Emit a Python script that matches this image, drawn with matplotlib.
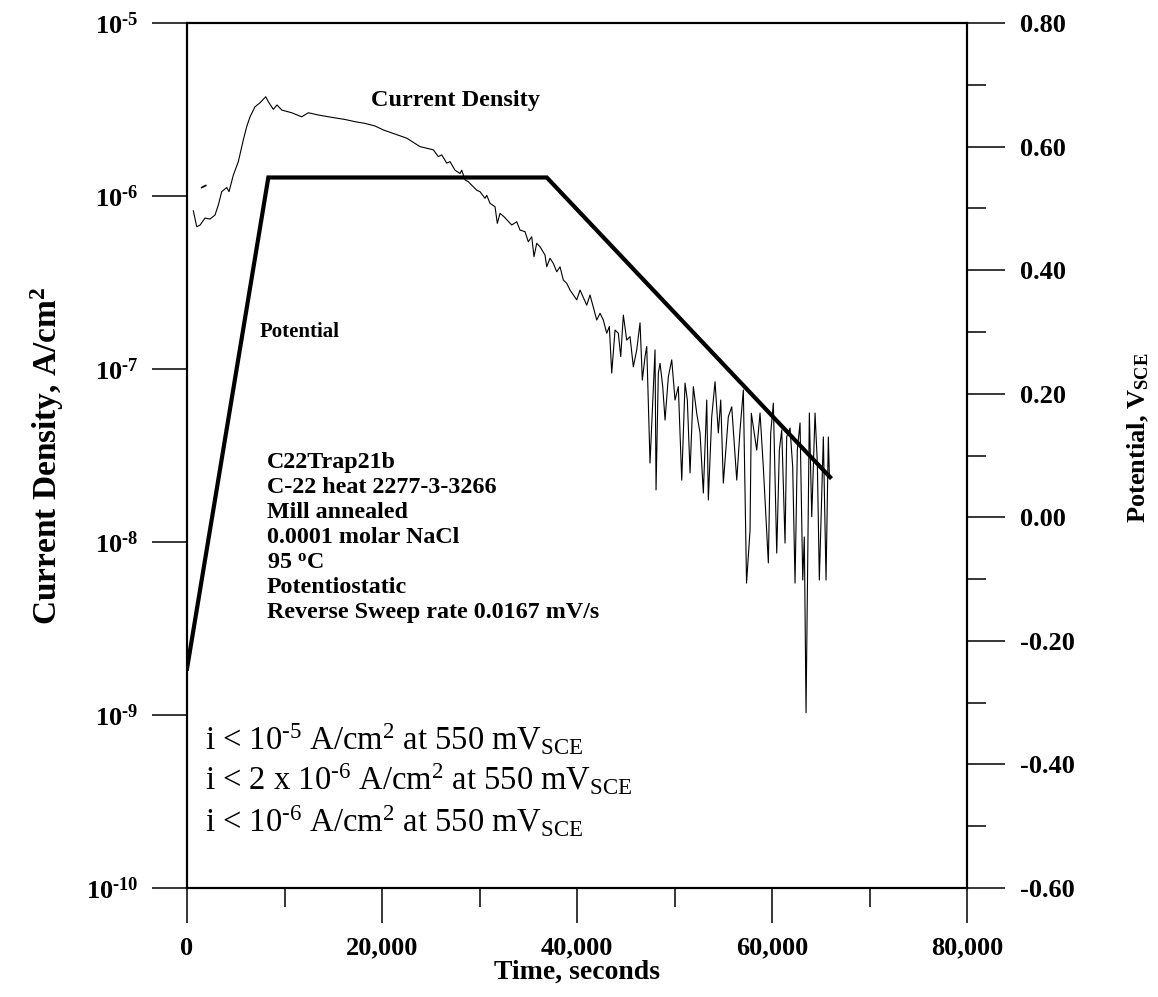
import matplotlib
matplotlib.use("Agg")
import matplotlib.pyplot as plt
from matplotlib.ticker import FixedLocator, FuncFormatter, MultipleLocator, NullLocator

plt.rcParams['font.family'] = ['Liberation Serif', 'DejaVu Serif']
plt.rcParams['mathtext.fontset'] = 'custom'
plt.rcParams['mathtext.rm'] = 'Liberation Serif'
plt.rcParams['mathtext.bf'] = 'Liberation Serif:bold'
plt.rcParams['mathtext.it'] = 'Liberation Serif:italic'
plt.rcParams['axes.unicode_minus'] = False

# current density trace (seconds, A/cm2)
time_cd = [646, 995, 1333, 1846, 2359, 2872, 3210, 3559, 4072, 4308,
           4749, 5262, 5774, 6123, 6462, 6974, 7487, 8072, 8338, 8851,
           9230, 9713, 10738, 11764, 12441, 13467, 14841, 16205, 17231, 18256,
           19282, 20133, 21159, 22533, 23897, 25262, 25774, 26123, 26636, 26974,
           27487, 28000, 28174, 28513, 28851, 29364, 29713, 30051, 30564, 30738,
           31077, 31588, 31824, 32101, 32512, 33302, 33815, 34152, 34665, 35004,
           35353, 35588, 35865, 36204, 36716, 36891, 37229, 37568, 37917, 38255,
           38594, 38943, 39282, 39969, 40308, 40995, 41333, 42020, 42359, 42697,
           43046, 43312, 43559, 43897, 44235, 44481, 44749, 45097, 45435, 45774,
           46122, 46462, 46697, 46974, 47149, 47487, 48000, 48103, 48338, 48513,
           48789, 49026, 49364, 49713, 50051, 50389, 50739, 51077, 51312, 51590,
           51928, 52276, 52615, 52954, 53303, 53467, 53815, 54154, 54492, 54738,
           55005, 55518, 55866, 56380, 56718, 57056, 57385, 57744, 57877, 58082,
           58431, 58769, 59105, 59621, 59862, 60133, 60482, 60749, 60995, 61333,
           61503, 61846, 62118, 62359, 62593, 62872, 63149, 63310, 63487, 63826,
           64072, 64410, 64646, 64851, 65097, 65262, 65538, 65774, 65877]
current = [8.22e-7, 6.65e-7, 6.79e-7, 7.46e-7, 7.36e-7, 7.77e-7, 8.87e-7, 1.06e-6, 1.12e-6, 1.06e-6,
           1.32e-6, 1.58e-6, 2.11e-6, 2.52e-6, 2.87e-6, 3.28e-6, 3.46e-6, 3.75e-6, 3.51e-6, 3.17e-6,
           3.36e-6, 3.14e-6, 3.03e-6, 2.87e-6, 3.03e-6, 2.94e-6, 2.85e-6, 2.77e-6, 2.69e-6, 2.63e-6,
           2.54e-6, 2.41e-6, 2.30e-6, 2.16e-6, 1.93e-6, 1.85e-6, 1.69e-6, 1.73e-6, 1.55e-6, 1.58e-6,
           1.41e-6, 1.35e-6, 1.41e-6, 1.24e-6, 1.21e-6, 1.13e-6, 1.08e-6, 1.06e-6, 9.70e-7, 1.01e-6,
           9.08e-7, 8.67e-7, 6.95e-7, 7.94e-7, 7.59e-7, 6.80e-7, 7.10e-7, 6.36e-7, 6.22e-7, 5.44e-7,
           5.82e-7, 4.46e-7, 5.33e-7, 5.09e-7, 4.56e-7, 3.90e-7, 4.37e-7, 4.08e-7, 3.65e-7, 3.90e-7,
           3.27e-7, 3.13e-7, 2.86e-7, 2.51e-7, 2.86e-7, 2.34e-7, 2.68e-7, 1.92e-7, 2.10e-7, 1.92e-7,
           1.61e-7, 1.76e-7, 9.48e-8, 1.68e-7, 1.61e-7, 1.18e-7, 2.05e-7, 1.47e-7, 1.54e-7, 1.03e-7,
           1.29e-7, 1.85e-7, 8.63e-8, 1.18e-7, 1.35e-7, 2.86e-8, 1.29e-7, 2.00e-8, 9.45e-8, 1.08e-7,
           7.91e-8, 5.07e-8, 9.02e-8, 1.13e-7, 6.62e-8, 7.91e-8, 2.28e-8, 8.30e-8, 6.62e-8, 2.51e-8,
           7.91e-8, 5.55e-8, 4.27e-8, 1.92e-8, 6.62e-8, 1.75e-8, 5.30e-8, 8.45e-8, 4.27e-8, 6.62e-8,
           2.19e-8, 5.30e-8, 6.05e-8, 2.28e-8, 4.44e-8, 7.57e-8, 5.79e-9, 1.17e-8, 5.55e-8, 4.64e-8,
           3.40e-8, 5.57e-8, 2.72e-8, 7.57e-9, 4.25e-8, 6.35e-8, 8.63e-9, 3.40e-8, 4.44e-8, 9.86e-9,
           4.06e-8, 4.56e-8, 2.72e-8, 5.79e-9, 3.40e-8, 4.88e-8, 6.03e-9, 1.07e-8, 1.03e-9, 5.57e-8,
           1.40e-8, 5.57e-8, 2.85e-8, 6.03e-9, 1.83e-8, 4.05e-8, 6.03e-9, 4.05e-8, 2.44e-8]

# short stray segment near the start
time_stray = [1510, 1920]
current_stray = [1.12e-6, 1.15e-6]

# applied potential (seconds, V vs SCE)
time_pot = [0, 8340, 36900, 65950]
potential = [-0.245, 0.55, 0.55, 0.065]

x_ticks = [0, 20000, 40000, 60000, 80000]
cd_ticks = [1e-10, 1e-9, 1e-8, 1e-7, 1e-6, 1e-5]
cd_labels = ['10$^{\\mathbf{\u201010}}$', '10$^{\\mathbf{\u20109}}$', '10$^{\\mathbf{\u20108}}$',
             '10$^{\\mathbf{\u20107}}$', '10$^{\\mathbf{\u20106}}$', '10$^{\\mathbf{\u20105}}$']

info_lines = ['C22Trap21b', 'C-22 heat 2277-3-3266', 'Mill annealed',
              '0.0001 molar NaCl', '95 $^{\\mathbf{o}}$C', 'Potentiostatic',
              'Reverse Sweep rate 0.0167 mV/s']
criteria = ['i < 10$^{\\mathrm{\u20105}}$ A/cm$^{\\mathrm{2}}$ at 550 mV$_{\\mathrm{SCE}}$',
            'i < 2 x 10$^{\\mathrm{\u20106}}$ A/cm$^{\\mathrm{2}}$ at 550 mV$_{\\mathrm{SCE}}$',
            'i < 10$^{\\mathrm{\u20106}}$ A/cm$^{\\mathrm{2}}$ at 550 mV$_{\\mathrm{SCE}}$']

fig = plt.figure(figsize=(11.58, 9.97), dpi=100)
ax = fig.add_axes([0.1615, 0.1093, 0.6736, 0.8676])
ax2 = ax.twinx()

ax.plot(time_cd, current, color='black', lw=0.8)
ax.plot(time_stray, current_stray, color='black', lw=1.2)
ax2.plot(time_pot, potential, color='black', lw=3.0, solid_joinstyle='miter')

ax.set_yscale('log')
ax.set_xlim(0, 80000)
ax.set_ylim(1e-10, 1e-5)
ax2.set_ylim(-0.60, 0.80)

ax.xaxis.set_major_locator(FixedLocator(x_ticks))
ax.xaxis.set_minor_locator(MultipleLocator(10000))
ax.xaxis.set_major_formatter(FuncFormatter(lambda v, p: f'{v:,.0f}'))
ax.yaxis.set_major_locator(FixedLocator(cd_ticks))
ax.yaxis.set_minor_locator(NullLocator())
ax.set_yticklabels(cd_labels)
ax2.yaxis.set_major_locator(MultipleLocator(0.2))
ax2.yaxis.set_minor_locator(MultipleLocator(0.1))
ax2.yaxis.set_major_formatter(FuncFormatter(lambda v, p: f'{v:.2f}'))

for a in (ax, ax2):
    for s in a.spines.values():
        s.set_linewidth(1.5)
ax.tick_params(axis='x', which='major', direction='out', length=25, width=1.1, pad=10, labelsize=19)
ax.tick_params(axis='x', which='minor', direction='out', length=14, width=1.1)
ax.tick_params(axis='y', which='major', direction='out', length=25, width=1.1, pad=10, labelsize=19)
ax2.tick_params(axis='y', which='major', direction='out', length=27, width=1.1, pad=11, labelsize=19)
ax2.tick_params(axis='y', which='minor', direction='out', length=14, width=1.1)
for lab in ax.get_xticklabels() + ax.get_yticklabels() + ax2.get_yticklabels():
    lab.set_fontweight('bold')

ax.set_xlabel('Time, seconds', fontsize=20, fontweight='bold', labelpad=0)
ax.set_ylabel('Current Density, A/cm$^{\\mathbf{2}}$', fontsize=24, fontweight='bold', labelpad=14)
ax2.set_ylabel('Potential, V$_{\\mathbf{SCE}}$', fontsize=19, fontweight='bold')
ax2.yaxis.set_label_coords(1.203, 0.52)

ax.text(0.344, 0.911, 'Current Density', transform=ax.transAxes, ha='center', va='center',
        fontsize=17.5, fontweight='bold')
ax.text(0.0936, 0.643, 'Potential', transform=ax.transAxes, ha='left', va='center',
        fontsize=15, fontweight='bold')
ax.text(0.1026, 0.405, '\n'.join(info_lines), transform=ax.transAxes, ha='left', va='center',
        fontsize=17.3, fontweight='bold', linespacing=1.25)
for txt, yb in zip(criteria, [0.1595, 0.1133, 0.0647]):
    ax.text(0.023, yb, txt, transform=ax.transAxes, ha='left', va='baseline', fontsize=23.5)

fig.savefig('out.png', dpi=100)
